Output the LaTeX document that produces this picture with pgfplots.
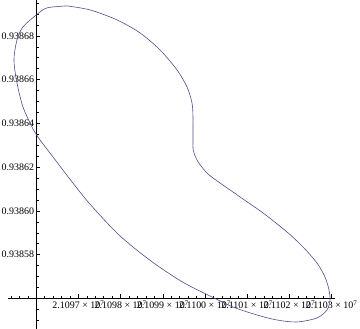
\documentclass[border=0pt]{standalone}
\usepackage{fontspec}
\setmainfont{Liberation Serif}
\usepackage{pgfplots}
\pgfplotsset{compat=1.18}
\definecolor{mmaline}{RGB}{78,78,140}
\begin{document}
\begin{tikzpicture}
% x values: X - 21096000 ; y values: (Y - 0.93856) * 10^5
\begin{axis}[
  scale only axis,
  width=327bp, height=329bp,
  axis lines=middle,
  axis line style={-, line width=0.6pt, black},
  every inner x axis line/.append style={-},
  every inner y axis line/.append style={-},
  xmin=-668, xmax=7081, ymin=-1.40, ymax=13.64,
  xtick={1000,2000,3000,4000,5000,6000,7000},
  xticklabels={2.1097 × 10\textsuperscript{7},2.1098 × 10\textsuperscript{7},2.1099 × 10\textsuperscript{7},2.1100 × 10\textsuperscript{7},2.1101 × 10\textsuperscript{7},2.1102 × 10\textsuperscript{7},2.1103 × 10\textsuperscript{7}},
  minor xtick={-600,-400,...,7000},
  ytick={2,4,6,8,10,12},
  yticklabels={0.93858,0.93860,0.93862,0.93864,0.93866,0.93868},
  minor ytick={-1,-0.5,...,13.5},
  tick align=inside,
  major tick length=4bp, minor tick length=2.5bp,
  tick style={black, line width=0.5pt},
  tick label style={font=\fontsize{10}{12}\selectfont},
  xticklabel style={inner sep=2pt},
  yticklabel style={inner sep=2pt},
  clip=false,
]
\addplot[mmaline, line width=0.6bp, smooth, tension=0.5] coordinates {
(730,13.370) (1275,13.187) (1915,12.730) (2460,12.135) (2934,11.358)
(3337,10.444) (3574,9.666) (3692,8.935) (3716,8.295) (3716,7.837)
(3716,7.243) (3720,6.786) (3787,6.420) (3858,6.177) (4024,5.780)
(4190,5.505) (4830,4.637) (5375,3.905) (5943,3.036) (6322,2.350)
(6654,1.619) (6844,0.979) (6939,0.384) (6962,-0.073) (6891,-0.530)
(6654,-0.896) (6180,-1.079) (5706,-0.988) (5232,-0.759) (4664,-0.393)
(4071,0.155) (3550,0.658) (3147,1.139) (2768,1.642) (2365,2.236)
(1962,2.899) (1583,3.653) (1180,4.522) (777,5.505) (398,6.466)
(90,7.243) (-5,7.517) (-100,7.837) (-313,8.752) (-455,9.849)
(-526,10.901) (-455,11.815) (-313,12.410) (12,12.972) (256,13.279)
(730,13.370)
};
\end{axis}
\pgfresetboundingbox
\path[use as bounding box] ([xshift=-8bp]current axis.south west) rectangle ([xshift=25bp]current axis.north east);
\end{tikzpicture}
\end{document}
